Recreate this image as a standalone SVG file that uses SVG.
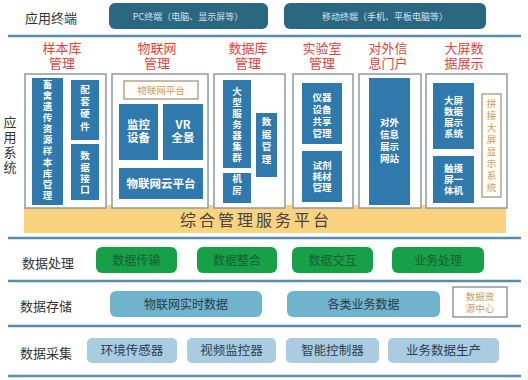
<svg xmlns="http://www.w3.org/2000/svg" width="528" height="380" viewBox="0 0 528 380">
<style>
text{font-family:"Noto Sans CJK SC","Noto Sans",sans-serif;}
.lbl{font-size:13px;fill:#333;}
.term{fill:#2a6781;}
.termt{font-size:9px;fill:#d4e3ec;text-anchor:middle;}
.red{font-size:13px;fill:#e8413c;text-anchor:middle;}
.panel{fill:#fff;stroke:#8c9ba6;stroke-width:1.5;}
.blue{fill:#3079ad;}
.bt{font-size:9.5px;fill:#fff;font-weight:bold;text-anchor:middle;}
.bt12{font-size:11.5px;fill:#fff;font-weight:bold;text-anchor:middle;}
.tan{fill:#fffdf6;stroke:#8a7a66;stroke-width:1;}
.tant{font-size:9.5px;fill:#d09a5a;text-anchor:middle;}
.v{writing-mode:vertical-rl;text-orientation:upright;}
.sep{stroke:#5a8cab;stroke-width:2.5;}
.green{fill:#16a048;}
.gt{font-size:12px;fill:#1b5e30;text-anchor:middle;}
.store{fill:#6fb3cc;}
.st{font-size:12px;fill:#2a3a48;text-anchor:middle;}
.coll{fill:#a9cce0;}
.ct{font-size:12.5px;fill:#2c3e50;text-anchor:middle;}
</style>
<rect width="528" height="380" fill="#fff"/>
<g id="connectors">
<line class="sep" x1="8" y1="36" x2="521" y2="36"/>
<line class="sep" x1="8" y1="238" x2="521" y2="238"/>
<line class="sep" x1="8" y1="281" x2="521" y2="281"/>
<line class="sep" x1="8" y1="326" x2="521" y2="326"/>
<line class="sep" x1="8" y1="376" x2="521" y2="376"/>
</g>
<g id="labels">
<text class="lbl" x="25" y="23">应用终端</text>
<text class="lbl v" x="10" y="146" text-anchor="middle" letter-spacing="2">应用系统</text>
<text class="lbl" x="22" y="268">数据处理</text>
<text class="lbl" x="20" y="311">数据存储</text>
<text class="lbl" x="20" y="358">数据采集</text>
</g>
<g id="terminal-pc"><rect class="term" x="109" y="3" width="159" height="26" rx="6"/><text class="termt" x="188" y="19.5">PC终端（电脑、显示屏等）</text></g>
<g id="terminal-mobile"><rect class="term" x="284" y="3" width="202" height="26" rx="6"/><text class="termt" x="385" y="19.5">移动终端（手机、平板电脑等）</text></g>
<g id="titles">
<text class="red" x="62" y="53">样本库</text><text class="red" x="62" y="68">管理</text>
<text class="red" x="157" y="53">物联网</text><text class="red" x="157" y="68">管理</text>
<text class="red" x="248" y="53">数据库</text><text class="red" x="248" y="68">管理</text>
<text class="red" x="322" y="53">实验室</text><text class="red" x="322" y="68">管理</text>
<text class="red" x="388" y="53">对外信</text><text class="red" x="388" y="68">息门户</text>
<text class="red" x="464" y="53">大屏数</text><text class="red" x="464" y="68">据展示</text>
</g>
<g id="platform">
<rect x="24" y="205" width="482" height="28" fill="#fbd27e"/>
<text x="256" y="226" font-size="16" fill="#444" text-anchor="middle" letter-spacing="3">综合管理服务平台</text>
</g>
<g id="panel-sample">
<rect class="panel" x="25" y="74" width="81" height="134"/>
<rect class="blue" x="32" y="78" width="31" height="127"/>
<text class="bt v" x="47.5" y="140.5" letter-spacing="1.65">畜禽遗传资源样本库管理</text>
<rect class="blue" x="71" y="80" width="28" height="60"/>
<text class="bt v" x="85" y="109" letter-spacing="2.8">配套硬件</text>
<rect class="blue" x="71" y="144" width="28" height="56"/>
<text class="bt v" x="85" y="173.5" letter-spacing="1.8">数据接口</text>
</g>
<g id="panel-iot">
<rect class="panel" x="112" y="74" width="96" height="134"/>
<rect class="tan" x="124" y="81" width="74" height="18"/>
<text class="tant" x="161" y="93.5">物联网平台</text>
<rect class="blue" x="119" y="104" width="39" height="56"/>
<text class="bt12" x="138.5" y="129"><tspan x="138.5">监控</tspan><tspan x="138.5" dy="13">设备</tspan></text>
<rect class="blue" x="163" y="104" width="40" height="56"/>
<text class="bt12" x="183" y="129"><tspan x="183">VR</tspan><tspan x="183" dy="13">全景</tspan></text>
<rect class="blue" x="119" y="168" width="84" height="31"/>
<text class="bt12" x="161" y="188">物联网云平台</text>
</g>
<g id="panel-db">
<rect class="panel" x="214" y="74" width="71" height="134"/>
<rect class="blue" x="223" y="80" width="28" height="88"/>
<text class="bt v" x="237" y="125" letter-spacing="1.5">大型服务器集群</text>
<rect class="blue" x="223" y="173" width="28" height="30"/>
<text class="bt v" x="237" y="186" letter-spacing="2.5">机房</text>
<rect class="blue" x="256" y="113" width="21" height="64"/>
<text class="bt v" x="266.5" y="142" letter-spacing="3.2">数据管理</text>
</g>
<g id="panel-lab">
<rect class="panel" x="293" y="74" width="60" height="134"/>
<rect class="blue" x="302" y="83" width="40" height="61"/>
<text class="bt" x="322" y="100.5"><tspan x="322">仪器</tspan><tspan x="322" dy="12">设备</tspan><tspan x="322" dy="12">共享</tspan><tspan x="322" dy="12">管理</tspan></text>
<rect class="blue" x="302" y="151" width="40" height="51"/>
<text class="bt" x="322" y="169"><tspan x="322">试剂</tspan><tspan x="322" dy="11">耗材</tspan><tspan x="322" dy="11">管理</tspan></text>
</g>
<g id="panel-portal">
<rect class="panel" x="359" y="74" width="62" height="134"/>
<rect class="blue" x="369" y="78" width="41" height="127"/>
<text class="bt" x="389.5" y="126"><tspan x="389.5">对外</tspan><tspan x="389.5" dy="12">信息</tspan><tspan x="389.5" dy="12">展示</tspan><tspan x="389.5" dy="12">网站</tspan></text>
</g>
<g id="panel-screen">
<rect class="panel" x="426" y="74" width="81" height="134"/>
<rect class="blue" x="433" y="83" width="41" height="66"/>
<text class="bt" x="453.5" y="103.5"><tspan x="453.5">大屏</tspan><tspan x="453.5" dy="11">数据</tspan><tspan x="453.5" dy="11">展示</tspan><tspan x="453.5" dy="11">系统</tspan></text>
<rect class="blue" x="433" y="156" width="41" height="47"/>
<text class="bt" x="453.5" y="171.5"><tspan x="453.5">触摸</tspan><tspan x="453.5" dy="11">屏一</tspan><tspan x="453.5" dy="11">体机</tspan></text>
<rect class="tan" x="482" y="94" width="19" height="103"/>
<text class="tant v" x="491.5" y="146.5" letter-spacing="2.4">拼接大屏显示系统</text>
</g>
<g id="proc-1"><rect class="green" x="96" y="247" width="81" height="26" rx="6"/><text class="gt" x="136.5" y="264.5">数据传输</text></g>
<g id="proc-2"><rect class="green" x="197" y="247" width="80" height="26" rx="6"/><text class="gt" x="237" y="264.5">数据整合</text></g>
<g id="proc-3"><rect class="green" x="292" y="247" width="81" height="26" rx="6"/><text class="gt" x="332.5" y="264.5">数据交互</text></g>
<g id="proc-4"><rect class="green" x="392" y="247" width="92" height="26" rx="6"/><text class="gt" x="438" y="264.5">业务处理</text></g>
<g id="store-1"><rect class="store" x="110" y="291" width="152" height="26" rx="6"/><text class="st" x="186" y="308.5">物联网实时数据</text></g>
<g id="store-2"><rect class="store" x="287" y="291" width="153" height="26" rx="6"/><text class="st" x="363.5" y="308.5">各类业务数据</text></g>
<g id="store-center"><rect x="453" y="287" width="54" height="30" fill="#fff" stroke="#666" stroke-width="1"/><text class="tant" x="480" y="299.5"><tspan x="480">数据资</tspan><tspan x="480" dy="12">源中心</tspan></text></g>
<g id="coll-1"><rect class="coll" x="87" y="338" width="90" height="25" rx="5"/><text class="ct" x="132" y="355">环境传感器</text></g>
<g id="coll-2"><rect class="coll" x="187" y="338" width="89" height="25" rx="5"/><text class="ct" x="231.5" y="355">视频监控器</text></g>
<g id="coll-3"><rect class="coll" x="286" y="338" width="93" height="25" rx="5"/><text class="ct" x="332.5" y="355">智能控制器</text></g>
<g id="coll-4"><rect class="coll" x="388" y="338" width="111" height="25" rx="5"/><text class="ct" x="443.5" y="355">业务数据生产</text></g>
</svg>
